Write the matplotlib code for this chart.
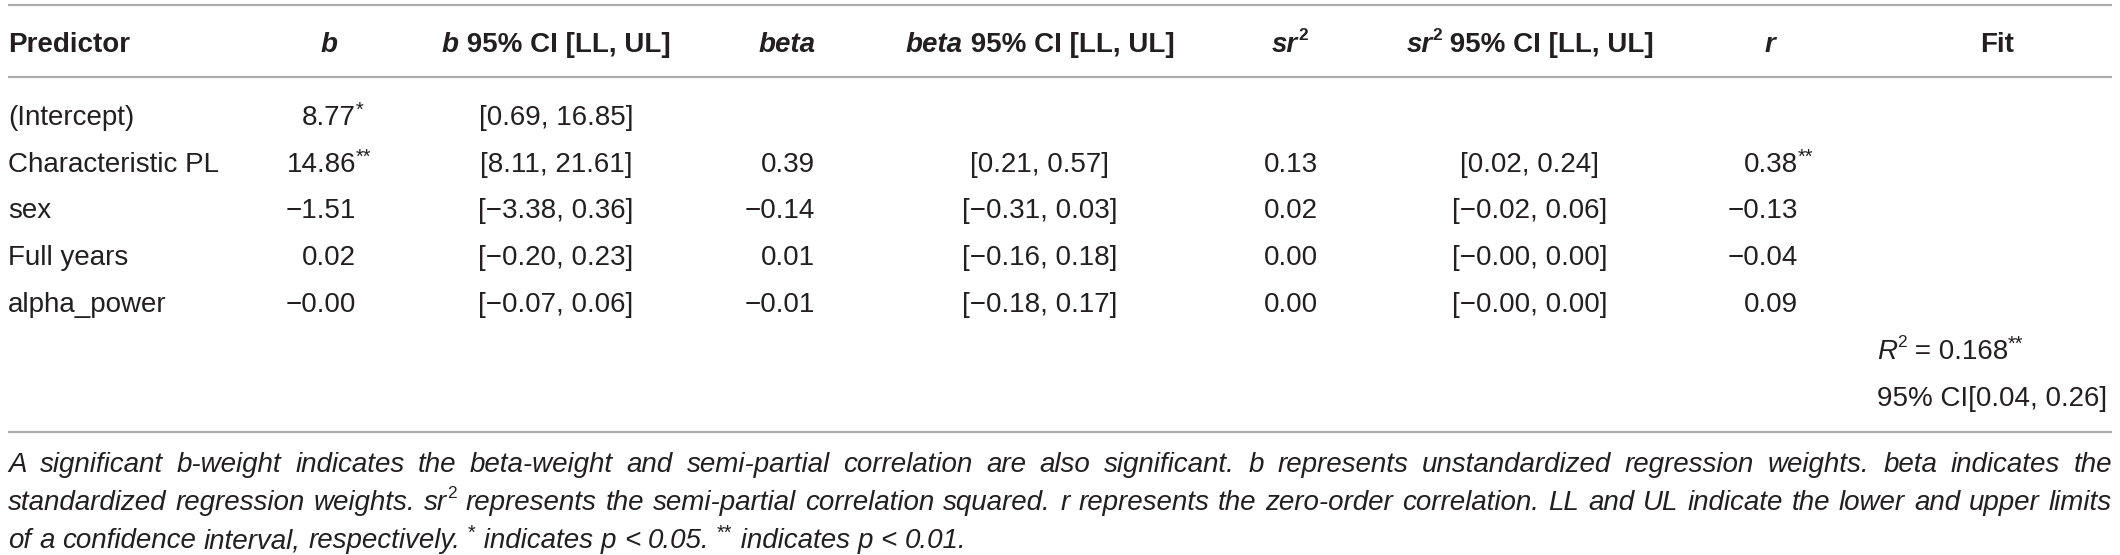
import matplotlib
matplotlib.use("Agg")
import matplotlib.pyplot as plt

plt.rcParams['font.family'] = ['Liberation Sans', 'DejaVu Sans']

# table content
predictors = ["(Intercept)", "Characteristic PL", "sex", "Full years", "alpha_power"]
b_vals = ["8.77", "14.86", "\u22121.51", "0.02", "\u22120.00"]
b_sig = ["*", "**", "", "", ""]
b_ci = ["[0.69, 16.85]", "[8.11, 21.61]", "[\u22123.38, 0.36]", "[\u22120.20, 0.23]", "[\u22120.07, 0.06]"]
beta_vals = ["", "0.39", "\u22120.14", "0.01", "\u22120.01"]
beta_ci = ["", "[0.21, 0.57]", "[\u22120.31, 0.03]", "[\u22120.16, 0.18]", "[\u22120.18, 0.17]"]
sr2_vals = ["", "0.13", "0.02", "0.00", "0.00"]
sr2_ci = ["", "[0.02, 0.24]", "[\u22120.02, 0.06]", "[\u22120.00, 0.00]", "[\u22120.00, 0.00]"]
r_vals = ["", "0.38", "\u22120.13", "\u22120.04", "0.09"]
r_sig = ["", "**", "", "", ""]
fit_r2 = "0.168"
fit_r2_sig = "**"
fit_ci = "95% CI[0.04, 0.26]"

note_lines = [
    "A significant b-weight indicates the beta-weight and semi-partial correlation are also significant. "
    "b represents unstandardized regression weights. beta indicates the",
    "standardized regression weights. sr^2 represents the semi-partial correlation squared. "
    "r represents the zero-order correlation. LL and UL indicate the lower and upper limits",
    "of a confidence interval, respectively. *indicates p < 0.05. **indicates p < 0.01.",
]

W, H = 2120, 555
FS = 20
TXT = "#231f20"
RULE = "#ababab"

fig = plt.figure(figsize=(W / 100, H / 100), dpi=100)
ax = fig.add_axes([0, 0, 1, 1])
ax.set_xlim(0, W)
ax.set_ylim(H, 0)
ax.axis("off")
renderer = fig.canvas.get_renderer()


def width_of(t):
    return t.get_window_extent(renderer).width


def make_parts(parts, y):
    texts = []
    for txt, wt, st, kind in parts:
        fs, dy = FS, 0
        if kind == "sup":
            fs, dy = FS * 0.62, -12
        elif kind == "star":
            fs, dy = FS * 0.72, -9
        t = ax.text(0, y + dy, txt, fontsize=fs, fontweight=wt, fontstyle=st,
                    va="baseline", ha="left", color=TXT)
        texts.append(t)
    return texts


def rich(x, y, parts, ha="left", anchor_n=None):
    # anchor_n: align using only the first n parts (rest overhang)
    texts = make_parts(parts, y)
    widths = [width_of(t) for t in texts]
    ref = sum(widths if anchor_n is None else widths[:anchor_n])
    if ha == "left":
        x0 = x
    elif ha == "right":
        x0 = x - ref
    else:
        x0 = x - ref / 2
    for t, w in zip(texts, widths):
        t.set_x(x0)
        x0 += w


# probe width of a space
_a = ax.text(0, -100, "aa", fontsize=FS, fontstyle="italic")
_b = ax.text(0, -100, "a a", fontsize=FS, fontstyle="italic")
SPACE = width_of(_b) - width_of(_a)
_a.remove()
_b.remove()

# rules
for yy in [5, 77, 432]:
    ax.plot([8, 2112], [yy, yy], color=RULE, lw=1.6, solid_capstyle="butt")

# header
hy = 42 + 10
B, N, I = "bold", "normal", "italic"
rich(8, hy, [("Predictor", B, N, None)])
rich(329, hy, [("b", B, I, None)], ha="center")
rich(556, hy, [("b", B, I, None), ("\u00a095% CI [LL, UL]", B, N, None)], ha="center")
rich(787, hy, [("beta", B, I, None)], ha="center")
rich(1040, hy, [("beta", B, I, None), ("\u00a095% CI [LL, UL]", B, N, None)], ha="center")
rich(1290, hy, [("sr", B, I, None), ("2", B, N, "sup")], ha="center")
rich(1530, hy, [("sr", B, I, None), ("2", B, N, "sup"), ("\u00a095% CI [LL, UL]", B, N, None)], ha="center")
rich(1770, hy, [("r", B, I, None)], ha="center")
rich(1997, hy, [("Fit", B, N, None)], ha="center")

# body
row_y = [115, 162, 208, 255, 302]
for i, yc in enumerate(row_y):
    y = yc + 10
    rich(8, y, [(predictors[i], N, N, None)])
    parts = [(b_vals[i], N, N, None)]
    if b_sig[i]:
        parts.append((b_sig[i], N, N, "star"))
    rich(356, y, parts, ha="right", anchor_n=1)
    rich(556, y, [(b_ci[i], N, N, None)], ha="center")
    if beta_vals[i]:
        rich(815, y, [(beta_vals[i], N, N, None)], ha="right")
        rich(1040, y, [(beta_ci[i], N, N, None)], ha="center")
        rich(1318, y, [(sr2_vals[i], N, N, None)], ha="right")
        rich(1530, y, [(sr2_ci[i], N, N, None)], ha="center")
        parts = [(r_vals[i], N, N, None)]
        if r_sig[i]:
            parts.append((r_sig[i], N, N, "star"))
        rich(1798, y, parts, ha="right", anchor_n=1)

rich(1877, 349 + 10, [("R", N, I, None), ("2", N, N, "sup"),
                      ("\u00a0=\u00a0" + fit_r2, N, N, None), (fit_r2_sig, N, N, "star")])
rich(1877, 396 + 10, [(fit_ci, N, N, None)])


# footnote, justified
def word_parts(w):
    if w.startswith("sr^2"):
        return [("sr", N, I, None), ("2", N, N, "sup")]
    if w.startswith("*"):
        stars = w[:len(w) - len(w.lstrip("*"))]
        rest = w.lstrip("*")
        return [(stars, N, N, "star"), ("\u00a0" + rest, N, I, None)]
    return [(w, N, I, None)]


note_y = [462, 500, 538]
for li, line in enumerate(note_lines):
    y = note_y[li] + 10
    words = line.split(" ")
    groups = []
    for w in words:
        ts = make_parts(word_parts(w), y)
        groups.append((ts, sum(width_of(t) for t in ts)))
    total = sum(g[1] for g in groups)
    if li < len(note_lines) - 1:
        gap = (2112 - 8 - total) / (len(groups) - 1)
    else:
        gap = SPACE
    x = 8
    for ts, wsum in groups:
        xx = x
        for t in ts:
            t.set_x(xx)
            xx += width_of(t)
        x += wsum + gap

fig.savefig("out.png", dpi=100, facecolor="white")
